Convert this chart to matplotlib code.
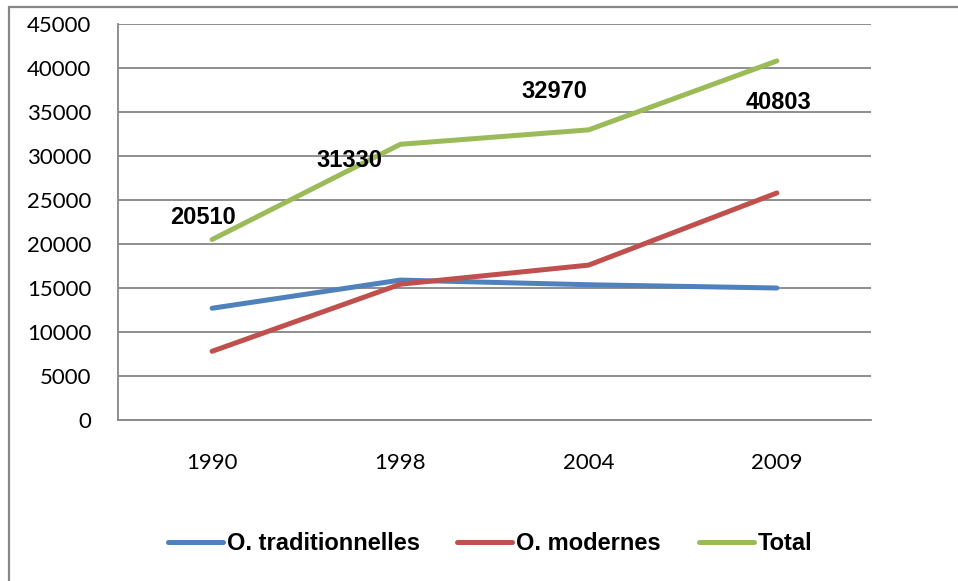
import numpy as np
import matplotlib.pyplot as plt
from matplotlib.patches import Rectangle

# Données
annees = ['1990', '1998', '2004', '2009']
traditionnelles = [12700, 15900, 15370, 15000]
modernes = [7810, 15430, 17600, 25800]
total = [20510, 31330, 32970, 40803]

plt.rcParams['font.family'] = ['Lato', 'DejaVu Sans']
gras = ['Liberation Sans', 'DejaVu Sans']

fig = plt.figure(figsize=(9.58, 5.81), dpi=100)
ax = fig.add_axes([118 / 958, 1 - 420 / 581, 753 / 958, 396 / 581])

x = np.arange(len(annees))
lw = 3.6
ax.plot(x, traditionnelles, color='#4F81BD', lw=lw, solid_capstyle='round', label='O. traditionnelles')
ax.plot(x, modernes, color='#C0504D', lw=lw, solid_capstyle='round', label='O. modernes')
ax.plot(x, total, color='#9BBB59', lw=lw, solid_capstyle='round', label='Total')

# Étiquettes des valeurs du total (déplacées à la main comme dans l'original)
decalages = [(-9, 22), (-51, -16), (-34, 38), (2, -42)]
for xi, v, (dx, dy) in zip(x, total, decalages):
    ax.annotate(str(v), (xi, v), xytext=(dx * 0.72, dy * 0.72), textcoords='offset points',
                ha='center', va='center', fontsize=17, fontweight='bold', family=gras)

ax.set_xlim(-0.5, 3.5)
ax.set_ylim(0, 45000)
ax.set_yticks(range(0, 45001, 5000))
ax.set_xticks(x)
ax.set_xticklabels(annees)
ax.tick_params(axis='both', length=0, labelsize=16)
ax.tick_params(axis='y', pad=19)
ax.tick_params(axis='x', pad=24)
ax.grid(axis='y', color='#868686', lw=1.3)
ax.set_axisbelow(True)
for s in ['top', 'right']:
    ax.spines[s].set_visible(False)
for s in ['left', 'bottom']:
    ax.spines[s].set_color('#868686')
    ax.spines[s].set_linewidth(1.3)

fig.legend(loc='center', bbox_to_anchor=(490 / 958, 1 - 544 / 581), ncol=3, frameon=False,
           prop={'weight': 'bold', 'size': 17, 'family': gras}, handlelength=2.33,
           handletextpad=0.17, columnspacing=1.6)

# Cadre extérieur du graphique
fig.patches.append(Rectangle((9 / 958, -0.1), 1.2, 1.1 - 7 / 581, transform=fig.transFigure,
                             fill=False, edgecolor='#868686', lw=1.6))

fig.savefig('out.png', dpi=100)
